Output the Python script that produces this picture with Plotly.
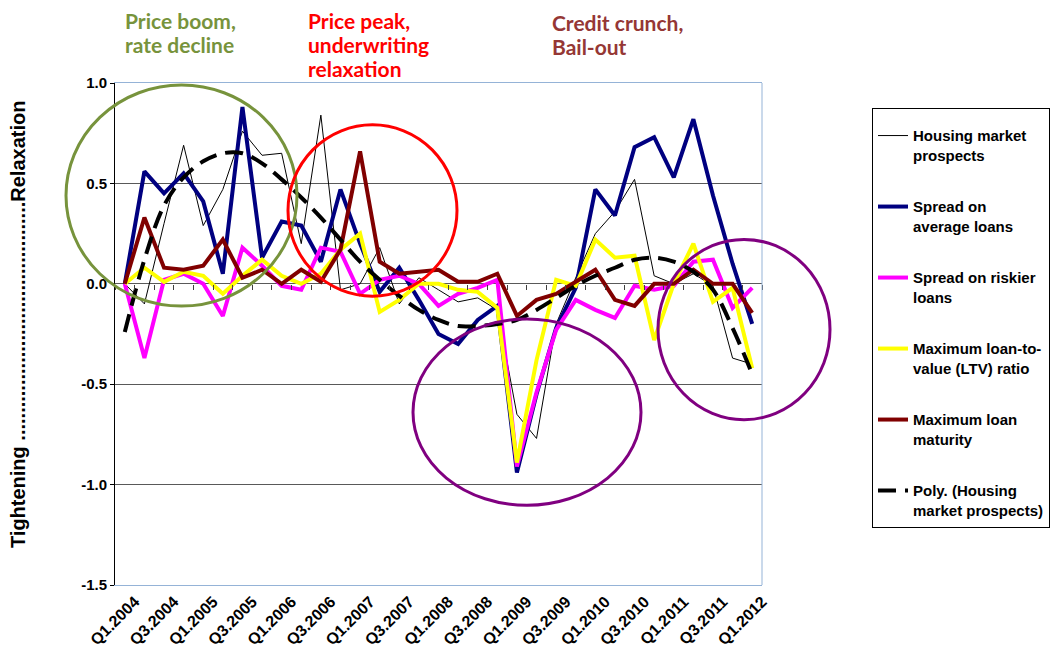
import plotly.graph_objects as go

# ---------------- data ----------------
quarters = ["Q1.2004", "Q2.2004", "Q3.2004", "Q4.2004",
            "Q1.2005", "Q2.2005", "Q3.2005", "Q4.2005",
            "Q1.2006", "Q2.2006", "Q3.2006", "Q4.2006",
            "Q1.2007", "Q2.2007", "Q3.2007", "Q4.2007",
            "Q1.2008", "Q2.2008", "Q3.2008", "Q4.2008",
            "Q1.2009", "Q2.2009", "Q3.2009", "Q4.2009",
            "Q1.2010", "Q2.2010", "Q3.2010", "Q4.2010",
            "Q1.2011", "Q2.2011", "Q3.2011", "Q4.2011",
            "Q1.2012"]
tick_labels = quarters[::2]

housing_prospects = [0.00, -0.10, 0.30, 0.69, 0.29, 0.47, 0.76, 0.64, 0.65, 0.20,
                     0.84, -0.03, 0.00, 0.18, -0.10, 0.03, -0.03, -0.09, -0.07, -0.13,
                     -0.65, -0.77, -0.20, 0.03, 0.25, 0.36, 0.52, 0.04, 0.00, 0.05,
                     -0.01, -0.37, -0.40]
spread_average = [0.00, 0.56, 0.45, 0.55, 0.41, 0.05, 0.88, 0.13, 0.31, 0.29,
                  0.11, 0.47, 0.20, -0.04, 0.08, -0.08, -0.25, -0.30, -0.18, -0.11,
                  -0.94, -0.55, -0.22, -0.02, 0.47, 0.34, 0.68, 0.73, 0.53, 0.82,
                  0.44, 0.10, -0.20]
spread_riskier = [0.00, -0.37, 0.02, 0.05, 0.00, -0.16, 0.18, 0.09, -0.01, -0.03,
                  0.18, 0.16, -0.05, 0.02, 0.04, 0.00, -0.11, -0.05, -0.02, 0.02,
                  -0.91, -0.54, -0.23, -0.08, -0.13, -0.17, -0.01, -0.03, -0.01, 0.11,
                  0.12, -0.12, -0.02]
max_ltv = [0.00, 0.08, 0.01, 0.06, 0.04, -0.05, 0.04, 0.12, 0.04, 0.00,
           0.05, 0.17, 0.25, -0.14, -0.08, 0.00, 0.00, -0.03, -0.04, -0.12,
           -0.89, -0.38, 0.02, -0.01, 0.22, 0.13, 0.14, -0.28, 0.00, 0.20,
           -0.09, -0.02, -0.42]
max_maturity = [0.00, 0.33, 0.08, 0.07, 0.09, 0.22, 0.03, 0.07, 0.00, 0.07,
                0.01, 0.17, 0.66, 0.11, 0.05, 0.06, 0.07, 0.01, 0.01, 0.05,
                -0.16, -0.08, -0.05, 0.01, 0.07, -0.08, -0.11, 0.00, 0.00, 0.07,
                0.00, 0.00, -0.145]
poly_trend = [-0.24, 0.12, 0.39, 0.53, 0.61, 0.65, 0.65, 0.60, 0.52, 0.43,
              0.33, 0.22, 0.11, 0.02, -0.06, -0.13, -0.18, -0.21, -0.21, -0.20,
              -0.18, -0.13, -0.07, -0.01, 0.04, 0.08, 0.12, 0.13, 0.11, 0.06,
              -0.03, -0.22, -0.45]

y_ticks = [-1.5, -1.0, -0.5, 0.0, 0.5, 1.0]
y_tick_text = ["-1.5", "-1.0", "-0.5", "0.0", "0.5", "1.0"]

# ---------------- layout geometry ----------------
W, H = 1062, 660
L, R, T, B = 115, 762, 83, 587


def px(x):
    return (x - L) / (R - L)


def py(y):
    return (B - y) / (B - T)


FONT = "Liberation Sans, Arial, sans-serif"
TITLE_FONT = "Lato, Carlito, Calibri, sans-serif"

fig = go.Figure()

series = [
    ("Housing market<br>prospects", housing_prospects, "#000000", 1, "solid", "linear"),
    ("Spread on<br>average loans", spread_average, "#000080", 4, "solid", "linear"),
    ("Spread on riskier<br>loans", spread_riskier, "#FF00FF", 4, "solid", "linear"),
    ("Maximum loan-to-<br>value (LTV) ratio", max_ltv, "#FFFF00", 4, "solid", "linear"),
    ("Maximum loan<br>maturity", max_maturity, "#800000", 4, "solid", "linear"),
    ("Poly. (Housing<br>market prospects)", poly_trend, "#000000", 4, "18px,9px", "spline"),
]
for i, (name, vals, col, w, dash, shape) in enumerate(series):
    fig.add_trace(go.Scatter(
        x=quarters, y=vals, name=name, mode="lines",
        line=dict(color=col, width=w, dash=dash, shape=shape),
        legendgroup=f"g{i}",
    ))

# helper trace for the category axis crossing at zero
fig.add_trace(go.Scatter(x=quarters, y=[None] * len(quarters), xaxis="x2",
                         mode="lines", showlegend=False, hoverinfo="skip"))

shapes = [
    dict(type="line", xref="paper", yref="paper", x0=1, x1=1, y0=0, y1=1,
         line=dict(color="#95B3D7", width=1)),
    # green circle
    dict(type="circle", xref="paper", yref="paper", layer="above",
         x0=px(66), x1=px(297), y0=py(307), y1=py(85),
         line=dict(color="#77933C", width=3)),
    # red circle
    dict(type="circle", xref="paper", yref="paper", layer="above",
         x0=px(288), x1=px(457), y0=py(297), y1=py(125),
         line=dict(color="#FF0000", width=3)),
    # purple circles
    dict(type="circle", xref="paper", yref="paper", layer="above",
         x0=px(413), x1=px(641), y0=py(507), y1=py(320),
         line=dict(color="#800080", width=3)),
    dict(type="circle", xref="paper", yref="paper", layer="above",
         x0=px(658), x1=px(830), y0=py(421), y1=py(240),
         line=dict(color="#800080", width=3)),
]

annotations = []
title_lines = [
    ("Price boom,", 124, 21, "#77933C"),
    ("rate decline", 124, 45, "#77933C"),
    ("Price peak,", 307, 21, "#FF0000"),
    ("underwriting", 307, 45, "#FF0000"),
    ("relaxation", 307, 69, "#FF0000"),
    ("Credit crunch,", 551, 23, "#953735"),
    ("Bail-out", 551, 47, "#953735"),
]
for txt, xx, yy, col in title_lines:
    annotations.append(dict(
        text=txt, xref="paper", yref="paper", x=px(xx), y=py(yy),
        xanchor="left", yanchor="middle", align="left", valign="bottom",
        height=24, borderpad=0, showarrow=False,
        font=dict(family=TITLE_FONT, size=21, color=col, weight="bold")))

annotations.append(dict(
    text="Tightening " + "." * 43 + "Relaxation", xref="paper", yref="paper",
    x=px(18), y=py(326), xanchor="center", yanchor="middle", textangle=-90,
    showarrow=False, font=dict(family=FONT, size=20, color="#000000", weight="bold")))

fig.update_layout(
    width=W, height=H,
    margin=dict(l=L, r=W - R, t=T, b=H - B, pad=0),
    paper_bgcolor="white", plot_bgcolor="white",
    showlegend=True,
    legend=dict(x=px(872), y=py(108), xanchor="left", yanchor="top",
                bgcolor="white", bordercolor="#000000", borderwidth=1,
                font=dict(family=FONT, size=15, color="#000000", weight="bold"),
                title=dict(text=" ", font=dict(size=8)),
                traceorder="grouped", tracegroupgap=29, valign="top"),
    xaxis=dict(type="category", range=[-0.5, 32.5], tickmode="array",
               tickvals=tick_labels, ticktext=tick_labels, tickangle=-45,
               ticks="", showgrid=False, zeroline=False, ticklabelshift=10,
               showline=True, linecolor="#95B3D7", linewidth=1, mirror=True,
               tickfont=dict(family=FONT, size=16, color="#000000", weight="bold")),
    xaxis2=dict(type="category", overlaying="x", matches="x", anchor="free",
                position=0.6, side="bottom", tickmode="linear", tick0=0, dtick=1,
                tickson="boundaries", ticks="outside", ticklen=5, tickcolor="#404040",
                showticklabels=False, showgrid=False, showline=False, zeroline=False),
    yaxis=dict(range=[-1.5, 1.0], tickmode="array", tickvals=y_ticks, ticktext=y_tick_text,
               showgrid=True, gridcolor="#595959", gridwidth=1, zeroline=False,
               showline=True, linecolor="#000000", linewidth=1,
               ticks="outside", ticklen=4, tickcolor="#000000",
               tickfont=dict(family=FONT, size=15, color="#000000", weight="bold")),
    shapes=shapes,
    annotations=annotations,
)

fig.write_html("out.html", config={"displayModeBar": False},
               post_script="document.body.style.margin='0px';")
